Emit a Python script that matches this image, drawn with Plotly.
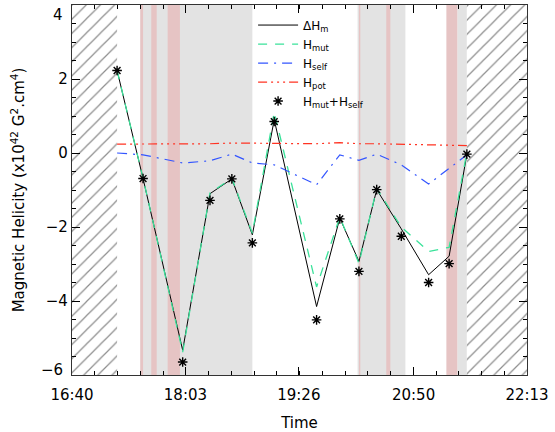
import plotly.graph_objects as go

# ---------------- data ----------------
times = ["17:13", "17:32", "18:01", "18:21", "18:37", "18:52", "19:08", "19:39",
         "19:56", "20:10", "20:23", "20:41", "21:01", "21:16", "21:29"]
dHm   = [2.23, -0.69, -5.33, -1.10, -0.70, -2.21, 0.90, -4.15,
         -1.76, -2.93, -0.99, -2.05, -3.29, -2.79, -0.03]
Hmut  = [2.23, -0.68, -5.38, -1.08, -0.68, -2.17, 1.10, -3.62,
         -1.73, -2.98, -0.96, -2.00, -2.66, -2.55, 0.02]
Hself = [0.00, -0.05, -0.27, -0.21, -0.03, -0.27, -0.32, -0.86,
         -0.05, -0.20, -0.03, -0.32, -0.84, -0.43, -0.05]
Hpot  = [0.24, 0.24, 0.24, 0.25, 0.27, 0.27, 0.26, 0.25,
         0.28, 0.25, 0.25, 0.24, 0.23, 0.21, 0.20]
Hsum  = [2.23, -0.69, -5.65, -1.28, -0.70, -2.43, 0.85, -4.51,
         -1.78, -3.20, -0.99, -2.25, -3.50, -2.99, -0.03]

tick_labels = ["16:40", "18:03", "19:26", "20:50", "22:13"]
y_ticks = [-6, -4, -2, 0, 2, 4]
grey_spans = [("17:30", "18:52"), ("20:09", "20:44"), ("21:22", "21:29")]
pink_spans = [("17:30", "17:32"), ("17:38", "17:42"), ("17:50", "17:59"),
              ("20:10", "20:11"), ("20:30", "20:33"), ("21:14", "21:22")]
y_range = [-6, 4]


def tmin(s):
    h, m = map(int, s.split(":"))
    return h * 60 + m - (16 * 60 + 40)


def ylab(v):
    return ("\u2212" if v < 0 else "") + str(abs(v))


x = [tmin(t) for t in times]
xt = [tmin(t) for t in tick_labels]
x_lo, x_hi = xt[0], xt[-1]

fig = go.Figure()

# hatched (no data) regions
for a, b in [(x_lo, x[0]), (x[-1], x_hi)]:
    fig.add_trace(go.Scatter(
        x=[a, b, b, a, a], y=[y_range[0], y_range[0], y_range[1], y_range[1], y_range[0]],
        mode="lines", line=dict(width=0), fill="toself", fillcolor="white",
        fillpattern=dict(shape="/", fgcolor="#1a1a1a", bgcolor="white", size=10, solidity=0.12),
        showlegend=False, hoverinfo="skip"))

for a, b in grey_spans:
    fig.add_vrect(x0=tmin(a), x1=tmin(b), fillcolor="#e3e3e3", line_width=0, layer="below")
for a, b in pink_spans:
    fig.add_vrect(x0=tmin(a), x1=tmin(b), fillcolor="#e6c4c4", line_width=0, layer="below")

fig.add_trace(go.Scatter(x=x, y=dHm, mode="lines", name="ΔH<sub>m</sub>",
                         line=dict(color="black", width=1)))
fig.add_trace(go.Scatter(x=x, y=Hmut, mode="lines", name="H<sub>mut</sub>",
                         line=dict(color="#3ae29a", width=1.3, dash="9px,8px")))
fig.add_trace(go.Scatter(x=x, y=Hself, mode="lines", name="H<sub>self</sub>",
                         line=dict(color="#3355ff", width=1.2, dash="10px,6px,2px,6px")))
fig.add_trace(go.Scatter(x=x, y=Hpot, mode="lines", name="H<sub>pot</sub>",
                         line=dict(color="#ff3322", width=1.2,
                                   dash="9px,4px,2px,4px,2px,4px,2px,4px")))
fig.add_trace(go.Scatter(x=x, y=Hsum, mode="markers", name="H<sub>mut</sub>+H<sub>self</sub>",
                         marker=dict(symbol="asterisk-open", size=8, color="black",
                                     line=dict(color="black", width=1.4))))

font = dict(family="DejaVu Sans", size=15, color="black")

# end tick labels drawn inside the frame height, as in the original
edge = {y_ticks[0]: 5, y_ticks[-1]: -10}
main_text = ["" if v in edge else ylab(v) for v in y_ticks]
for v, shift in edge.items():
    fig.add_annotation(xref="paper", x=0, yref="y", y=v, text=ylab(v), showarrow=False,
                       xanchor="right", yanchor="middle", xshift=-7, yshift=shift,
                       font=font)

fig.update_layout(
    width=555, height=432,
    margin=dict(l=72, r=28, t=5, b=57),
    paper_bgcolor="white", plot_bgcolor="white",
    font=font,
    legend=dict(x=0.398, y=0.985, xanchor="left", yanchor="top",
                bgcolor="rgba(0,0,0,0)", font=dict(family="DejaVu Sans", size=12),
                tracegroupgap=0, itemwidth=40),
    xaxis=dict(range=[x_lo, x_hi], tickvals=xt, ticktext=tick_labels,
               ticks="inside", ticklen=8, tickcolor="black", mirror="ticks",
               showline=True, linecolor="#333333", linewidth=1.2, showgrid=False,
               zeroline=False, automargin=False, ticklabelstandoff=6,
               ticklabeloverflow="allow",
               minor=dict(dtick=(x_hi - x_lo) / 20, tick0=0, ticks="inside",
                          ticklen=4, tickcolor="black", showgrid=False),
               title=dict(text="Time", font=font, standoff=14)),
    yaxis=dict(range=y_range, tickvals=y_ticks, ticktext=main_text,
               ticks="inside", ticklen=8, tickcolor="black", mirror="ticks",
               showline=True, linecolor="#333333", linewidth=1.2, showgrid=False,
               zeroline=False, automargin=False, ticklabeloverflow="allow",
               minor=dict(dtick=0.5, tick0=0, ticks="inside", ticklen=4, tickcolor="black",
                          showgrid=False),
               title=dict(text="Magnetic Helicity (x10<sup>42</sup> G<sup>2</sup>.cm<sup>4</sup>)",
                          font=font, standoff=17)),
)

fig.write_html("out.html", post_script="document.body.style.margin='0px';",
               config={"displayModeBar": False})
